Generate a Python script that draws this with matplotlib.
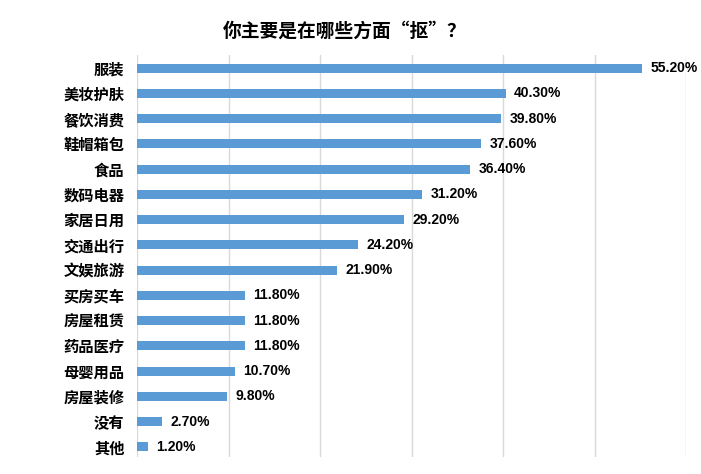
import matplotlib
matplotlib.use("Agg")
import matplotlib.pyplot as plt

categories = ["服装", "美妆护肤", "餐饮消费", "鞋帽箱包", "食品", "数码电器", "家居日用",
              "交通出行", "文娱旅游", "买房买车", "房屋租赁", "药品医疗", "母婴用品",
              "房屋装修", "没有", "其他"]
values = [55.2, 40.3, 39.8, 37.6, 36.4, 31.2, 29.2, 24.2, 21.9, 11.8, 11.8, 11.8, 10.7, 9.8, 2.7, 1.2]
labels = ["55.20%", "40.30%", "39.80%", "37.60%", "36.40%", "31.20%", "29.20%", "24.20%",
          "21.90%", "11.80%", "11.80%", "11.80%", "10.70%", "9.80%", "2.70%", "1.20%"]
title = "你主要是在哪些方面“抠”？"

cjk = ["Noto Sans CJK SC", "DejaVu Sans"]

fig = plt.figure(figsize=(7.01, 4.74), dpi=100)
ax = fig.add_axes([137/701, 1 - 457/474, (686 - 137)/701, (457 - 55)/474])

y = list(range(len(categories)))
ax.barh(y, values, height=0.36, color="#5b9bd5", zorder=3)
ax.set_xlim(0, 60)
ax.set_ylim(len(categories) - 0.6, -0.52)
ax.set_xticks([0, 10, 20, 30, 40, 50, 60])
ax.set_xticklabels([])
ax.tick_params(axis="x", length=0)
ax.tick_params(axis="y", length=0, pad=9)
ax.grid(axis="x", color="#d9d9d9", linewidth=1, zorder=0)
for s in ax.spines.values():
    s.set_visible(False)
ax.set_yticks(y)
ax.set_yticklabels(categories, fontfamily=cjk, fontsize=11, fontweight="bold", color="black")

for yi, v, lab in zip(y, values, labels):
    ax.annotate(lab, xy=(v, yi), xytext=(6, 0), textcoords="offset points",
                va="center", ha="left", fontsize=10, fontweight="bold",
                fontfamily=["Liberation Sans", "DejaVu Sans"], color="black")

fig.text(345/701, 1 - 31/474, title, ha="center", va="center", fontsize=13.5,
         fontweight="bold", fontfamily=cjk, color="black")

fig.savefig("out.png", dpi=100)
